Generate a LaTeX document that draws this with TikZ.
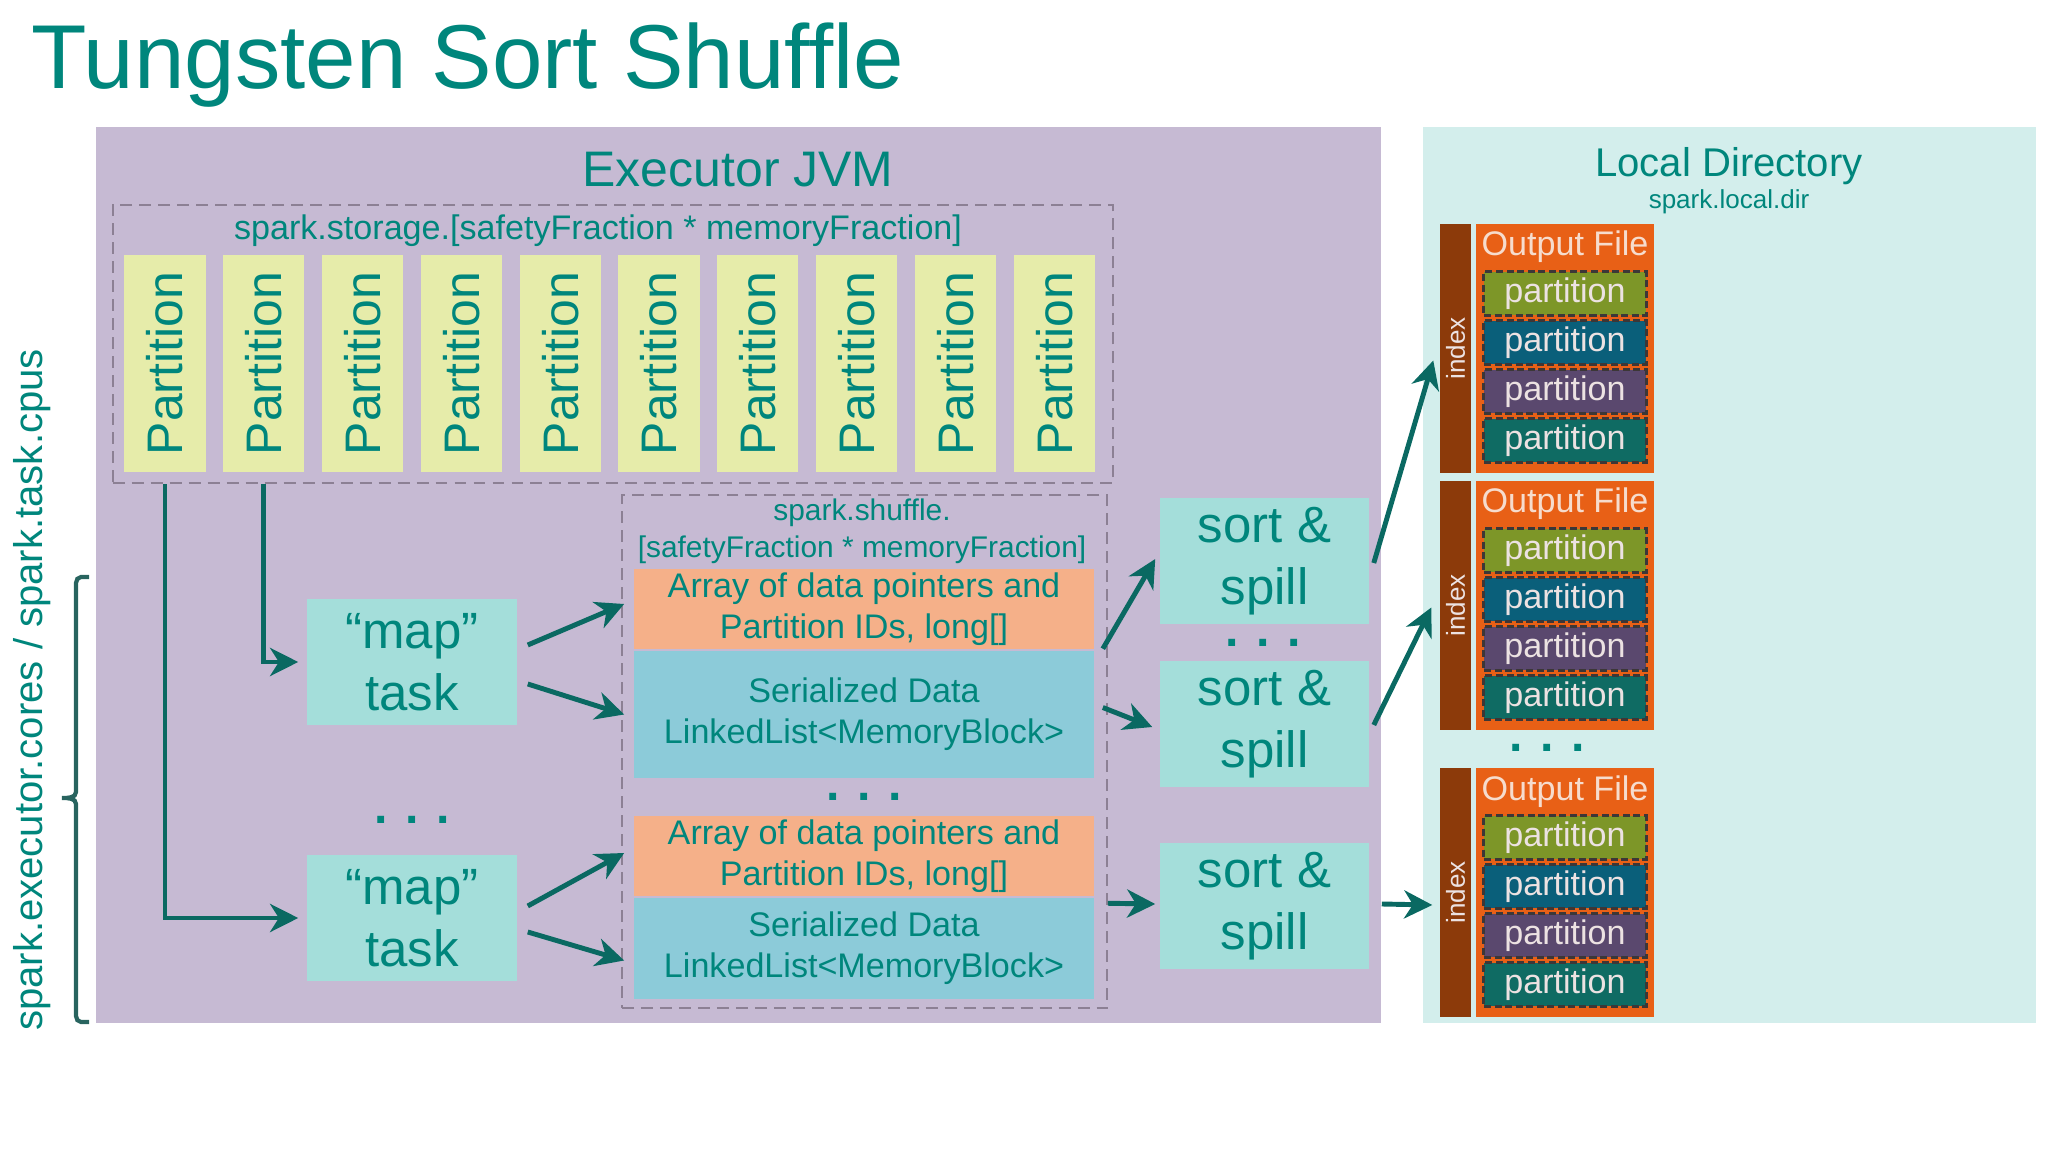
\documentclass[tikz,border=0pt]{standalone}
\usepackage{fontspec}
\setmainfont{Liberation Sans}
\usetikzlibrary{arrows.meta}
\definecolor{tealtext}{RGB}{0,134,124}
\definecolor{arrowteal}{RGB}{10,105,98}
\definecolor{jvmbg}{RGB}{198,186,211}
\definecolor{localbg}{RGB}{211,238,236}
\definecolor{partyellow}{RGB}{230,236,170}
\definecolor{taskfill}{RGB}{164,222,218}
\definecolor{arrayorange}{RGB}{245,176,137}
\definecolor{serblue}{RGB}{140,203,217}
\definecolor{memgrey}{RGB}{140,128,148}
\definecolor{indexbrown}{RGB}{140,58,10}
\definecolor{fileorange}{RGB}{232,96,22}
\definecolor{partolive}{RGB}{125,150,40}
\definecolor{partblue}{RGB}{10,95,122}
\definecolor{partpurple}{RGB}{90,72,110}
\definecolor{partteal}{RGB}{15,107,99}
\definecolor{partedge}{RGB}{60,55,55}
\definecolor{lighttext}{RGB}{236,226,226}
\definecolor{filetext}{RGB}{246,220,205}
\definecolor{bracketteal}{RGB}{40,100,95}
\begin{document}
\begin{tikzpicture}[x=0.01cm,y=-0.01cm,
  flow/.style={draw=arrowteal,line width=1.4pt,-{Stealth[length=8pt,width=8pt,inset=2.5pt]}},
  memarea/.style={draw=memgrey,line width=0.6pt,dash pattern=on 3.4pt off 2pt,inner sep=0pt},
  partcol/.style={fill=partyellow,text=tealtext,inner sep=0pt,rotate=90,minimum width=2.17cm,minimum height=0.81cm,font=\fontsize{14.2}{17}\selectfont},
  taskbox/.style={fill=taskfill,text=tealtext,inner sep=0pt,align=center,minimum width=2.1cm,minimum height=1.26cm,font=\fontsize{14.5}{17.6}\selectfont},
  arraybox/.style={fill=arrayorange,text=tealtext,inner sep=0pt,align=center,minimum width=4.6cm,minimum height=0.8cm,font=\fontsize{9.7}{11.7}\selectfont},
  serbox/.style={fill=serblue,text=tealtext,inner sep=0pt,align=center,minimum width=4.6cm,font=\fontsize{9.7}{11.7}\selectfont},
  idxbar/.style={fill=indexbrown,text=lighttext,inner sep=0pt,rotate=90,minimum width=2.49cm,minimum height=0.31cm,font=\fontsize{7.4}{9}\selectfont},
  outfile/.style={fill=fileorange,inner sep=0pt,minimum width=1.78cm,minimum height=2.49cm},
  filepart/.style={draw=partedge,line width=0.85pt,dash pattern=on 2pt off 1pt,text=lighttext,inner sep=0pt,minimum width=1.62cm,minimum height=0.43cm,font=\fontsize{9.7}{11}\selectfont},
  dotrow/.style={text=tealtext,inner sep=0pt,font=\bfseries\fontsize{13.7}{16}\selectfont},
  tealtxt/.style={text=tealtext,inner sep=0pt}]
\useasboundingbox (0,0) rectangle (2048,1152);
% backgrounds
\fill[jvmbg] (96,127) rectangle (1381,1023);
\fill[localbg] (1423,127) rectangle (2036,1023);
\node[tealtxt,anchor=base west,font=\fontsize{25.8}{30}\selectfont] (title) at (31,89) {Tungsten Sort Shuffle};
\node[tealtxt,anchor=base,font=\fontsize{14.2}{17}\selectfont] (jvm) at (738,187) {Executor JVM};
\node[tealtxt,anchor=base,font=\fontsize{11.4}{13}\selectfont] (localdir) at (1729,177) {Local Directory};
\node[tealtxt,anchor=base,font=\fontsize{7.4}{9}\selectfont] (localcfg) at (1729,209) {spark.local.dir};
% storage memory
\node[memarea,minimum width=10cm,minimum height=2.78cm] (storage) at (613,344) {};
\node[tealtxt,font=\fontsize{9.7}{11.7}\selectfont] (storagelbl) at (598,231) {spark.storage.[safetyFraction * memoryFraction]};
\foreach \i in {0,...,9}
  \node[partcol] (part\i) at (165+98.8*\i,363.5) {Partition};
% shuffle memory
\node[memarea,minimum width=4.85cm,minimum height=5.13cm] (shufmem) at (864.5,751.5) {};
\node[tealtxt,align=center,font=\fontsize{8.5}{10.5}\selectfont] (shuflbl) at (862,531) {spark.shuffle.\\{}[safetyFraction * memoryFraction]};
\node[arraybox] (ptr1) at (864,609) {Array of data pointers and\\Partition IDs, long[]};
\node[serbox,minimum height=1.27cm] (ser1) at (864,714.5) {Serialized Data\\LinkedList<MemoryBlock>};
\node[arraybox] (ptr2) at (864,856) {Array of data pointers and\\Partition IDs, long[]};
\node[serbox,minimum height=1.01cm] (ser2) at (864,948.5) {Serialized Data\\LinkedList<MemoryBlock>};
\node[dotrow] (dotsshuf) at (864,797) {. . .};
% tasks
\node[taskbox] (map1) at (412,662) {“map”\\task};
\node[taskbox] (map2) at (412,918) {“map”\\task};
\node[dotrow] (dotsmap) at (412,820) {. . .};
\node[taskbox,minimum width=2.09cm] (sort1) at (1264.5,561) {sort \&\\spill};
\node[taskbox,minimum width=2.09cm] (sort2) at (1264.5,724) {sort \&\\spill};
\node[taskbox,minimum width=2.09cm] (sort3) at (1264.5,906) {sort \&\\spill};
\node[dotrow] (dotssort) at (1263,643) {. . .};
% output files
\foreach \fy [count=\k] in {224,481,768}{
  \node[idxbar] (idx\k) at (1455.5,\fy+124.5) {index};
  \node[outfile] (file\k) at (1565,\fy+124.5) {};
  \node[tealtxt,text=filetext,anchor=base,font=\fontsize{9.7}{11}\selectfont] (ftitle\k) at (1565,\fy+32) {Output File};
  \foreach \c [count=\j] in {partolive,partblue,partpurple,partteal}
    \node[filepart,fill=\c] (fp\k\j) at (1565,\fy+20.5+49*\j) {partition};
}
\node[dotrow] (dotsfile) at (1547,748) {. . .};
% cores bracket
\draw[bracketteal,line width=1.2pt] (89,577) -- (81,577) to[out=180,in=90] (76,583) -- (76,792)
  to[out=-90,in=0] (62,798) to[out=0,in=90] (76,804) -- (76,1016) to[out=-90,in=180] (81,1022) -- (89,1022);
\node[tealtxt,rotate=90,font=\fontsize{11.4}{13}\selectfont] (coreslbl) at (32,690) {spark.executor.cores / spark.task.cpus};
% connectors
\draw[flow,shorten >=0.08cm] (part0 |- storage.south) |- (map2.west);
\draw[flow,shorten >=0.08cm] (part1 |- storage.south) |- (map1.west);
\draw[flow] ([shift={(10,-17)}]map1.east) -- ([shift={(-9,-5)}]ptr1.west);
\draw[flow] ([shift={(10,22)}]map1.east) -- ([shift={(-9,0)}]ser1.west);
\draw[flow] ([shift={(10,-12)}]map2.east) -- ([shift={(-9,-3)}]ptr2.west);
\draw[flow] ([shift={(10,14)}]map2.east) -- ([shift={(-9,12)}]ser2.west);
\draw[flow] ([shift={(8,-1)}]ptr1.south east) -- ([shift={(-4,-2)}]sort1.west);
\draw[flow] ([shift={(8,-7)}]ser1.east) -- ([shift={(-7,3)}]sort2.west);
\draw[flow] ([shift={(13,6)}]ser2.north east) -- ([shift={(-4,-2)}]sort3.west);
\draw[flow] ([shift={(4,2)}]sort1.east) -- ([shift={(-6,12)}]idx1.north);
\draw[flow] ([shift={(4,1)}]sort2.east) -- ([shift={(-8,2)}]idx2.north);
\draw[flow] ([shift={(12,-2)}]sort3.east) -- ([shift={(-7,12.5)}]idx3.north);
\end{tikzpicture}
\end{document}
